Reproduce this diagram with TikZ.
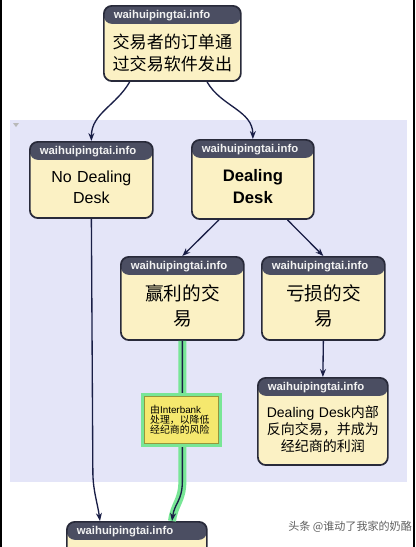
\documentclass[tikz,border=0pt]{standalone}
\usepackage{fontspec}
\setmainfont{Liberation Sans}
\newfontfamily\cjk{Noto Sans CJK SC}
\usetikzlibrary{arrows.meta}
\definecolor{PanelLavender}{RGB}{228, 229, 248}
\definecolor{BoxFill}{RGB}{251, 241, 196}
\definecolor{BoxLine}{RGB}{40, 42, 58}
\definecolor{HeadGrey}{RGB}{75, 78, 98}
\definecolor{HeadText}{RGB}{242, 242, 242}
\definecolor{LinkNavy}{RGB}{25, 30, 70}
\definecolor{Glow}{RGB}{120, 230, 150}
\definecolor{NoteFill}{RGB}{245, 232, 110}
\definecolor{NoteLine}{RGB}{150, 150, 60}
\definecolor{MarkGrey}{RGB}{95, 95, 95}
\newcommand{\boxhead}{\makebox[\linewidth][l]{\hspace{7.5pt}\normalfont\fontsize{8.5}{9}\selectfont\bfseries\color{HeadText}waihuipingtai.info}}
\newcommand{\deepstrut}[1]{\rule[-#1]{0pt}{#1}}
\begin{document}
\begin{tikzpicture}[
        x = 0.75pt, y = -0.75pt,
        box/.style = {
            draw = BoxLine,
            line width = 1.3pt,
            fill = BoxFill,
            rounded corners = 6pt,
            anchor = north west,
            inner xsep = 0pt,
            inner ysep = 3.5pt,
            align = center,
            path picture = {
                \fill[HeadGrey] (path picture bounding box.north west)
                    rectangle ([yshift = -13.5pt]path picture bounding box.north east);
            }
        },
        conn/.style = {
            -{Stealth[length = 6pt, width = 4.5pt]},
            line width = 1pt,
            LinkNavy
        },
        note/.style = {
            draw = NoteLine,
            line width = 0.6pt,
            fill = NoteFill,
            preaction = {draw = Glow, line width = 5pt},
            minimum width = 56pt,
            minimum height = 35pt,
            inner sep = 0pt,
            text width = 47pt,
            align = left,
            font = \cjk\fontsize{7.4}{7.6}\selectfont
        }
    ]
        \useasboundingbox (0,0) rectangle (415,547);
        \clip (0,0) rectangle (415,547);
        \fill[white] (0,0) rectangle (415,547);
        \fill[PanelLavender] (10,120) rectangle (407,482);
        \fill[gray!55] (13,123) -- (19,123) -- (16,127) -- cycle;
        \draw[black, line width = 1.5pt] (1,0) -- (1,547);
        \draw[black, line width = 1.5pt] (414,0) -- (414,547);

        \node[box, text width = 102.75pt, font = \cjk\fontsize{12.8}{16.5}\selectfont] (order) at (103,5) {
            \boxhead\\[5.5pt]交易者的订单通\\过交易软件发出\deepstrut{4.75pt}
        };

        \node[box, text width = 92.25pt, font = \fontsize{12}{15.4}\selectfont] (nodesk) at (29,141) {
            \boxhead\\[5.5pt]No Dealing\\Desk\deepstrut{7.7pt}
        };

        \node[box, text width = 91.5pt, font = \fontsize{12.5}{16.5}\selectfont\bfseries] (deal) at (191,139) {
            \boxhead\\[4.75pt]Dealing\\Desk\deepstrut{8.5pt}
        };

        \node[box, text width = 92.25pt, font = \cjk\fontsize{14}{18.75}\selectfont] (win) at (120,256) {
            \boxhead\\[4pt]赢利的交\\易\deepstrut{7.75pt}
        };

        \node[box, text width = 92.25pt, font = \cjk\fontsize{14}{18.75}\selectfont] (loss) at (261,256) {
            \boxhead\\[4pt]亏损的交\\易\deepstrut{7.75pt}
        };

        \node[box, text width = 97.5pt, font = \cjk\fontsize{10.5}{12.75}\selectfont] (flip) at (257,377) {
            \boxhead\\[7pt]{\normalfont\fontsize{10.5}{12.75}\selectfont Dealing Desk}内部\\反向交易，并成为\\经纪商的利润\deepstrut{7pt}
        };

        \node[box, text width = 105pt] (bot) at (66,521) {
            \boxhead\\\deepstrut{25pt}
        };

        \draw[conn] ([xshift = 20pt]order.south west) to[out = -120, in = 90] (nodesk.north);
        \draw[conn] ([xshift = -26pt]order.south east) to[out = -60, in = 90] (deal.north);
        \draw[conn] ([xshift = -25.5pt]deal.south) -- (win.north);
        \draw[conn] ([xshift = 26pt]deal.south) -- (loss.north);
        \draw[conn] (loss.south) -- (flip.north);
        \draw[conn] (nodesk.south) -- ++(1.5,255)
            .. controls +(0.5,18) and +(-2.5,-18) .. ([xshift = 25.5pt]bot.north west);
        \draw[conn, preaction = {draw = Glow, line width = 6pt, -}] (win.south) -- ++(0,140)
            .. controls +(0,20) and +(2.5,-18) .. ([xshift = 79.5pt]bot.north west);

        \node[note] (risk) at (181.5,420) {
            由{\normalfont\fontsize{7.4}{7.6}\selectfont Interbank}\\处理，以降低\\经纪商的风险
        };

        \node[anchor = west, inner sep = 0pt, text = MarkGrey, font = \cjk\fontsize{8.3}{10}\selectfont] (mark) at (288,527) {头条 @谁动了我家的奶酪};
    \end{tikzpicture}
\end{document}
